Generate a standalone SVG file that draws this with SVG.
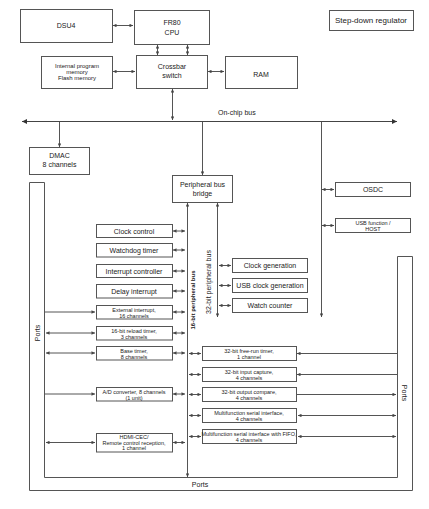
<svg xmlns="http://www.w3.org/2000/svg" width="429" height="509" viewBox="0 0 429 509">
<style>
.box{fill:#fff;stroke:#555;stroke-width:1}
.t{font-family:"Liberation Sans",Arial,sans-serif;fill:#222;text-anchor:middle}
.s8{font-size:8px}.s7{font-size:7px}.s6{font-size:6px}.s5{font-size:5.5px}
.c{fill:none;stroke:#555;stroke-width:1}
.d{marker-start:url(#a);marker-end:url(#a)}
.e{marker-end:url(#a)}
.bus{fill:none;stroke:#444;stroke-width:1.2;marker-start:url(#b);marker-end:url(#b)}
</style>
<defs>
<marker id="a" viewBox="0 0 6 6" refX="6" refY="3" markerWidth="4" markerHeight="3.5" orient="auto-start-reverse" markerUnits="userSpaceOnUse"><path d="M0,0 L6,3 L0,6 z" fill="#444"/></marker>
<marker id="b" viewBox="0 0 6 6" refX="6" refY="3" markerWidth="7" markerHeight="5" orient="auto-start-reverse" markerUnits="userSpaceOnUse"><path d="M0,0 L6,3 L0,6 z" fill="#333"/></marker>
</defs>
<rect width="429" height="509" fill="#fff"/>

<g id="connectors">
<path class="c d" d="M113,25.5 H133"/>
<path class="c d" d="M157.5,45 V55"/>
<path class="c d" d="M187.5,45 V55"/>
<path class="c d" d="M113,71.5 H135"/>
<path class="c d" d="M208,71.5 H224"/>
<path class="c d" d="M172.5,89 V120"/>
<path class="bus" d="M22,121.5 H397"/>
<path class="c e" d="M59.5,122 V147"/>
<path class="c e" d="M202.5,122 V175"/>
<path class="c e" d="M321.5,122 V317"/>
<path class="c d" d="M322,189.5 H334"/>
<path class="c d" d="M322,225.5 H334"/>
<path class="c d" d="M187.5,203 V477"/>
<path class="c d" d="M217.5,203 V317"/>
<path class="c d" d="M173,231 H185"/>
<path class="c d" d="M173,250 H185"/>
<path class="c d" d="M173,271 H185"/>
<path class="c d" d="M173,291 H185"/>
<path class="c d" d="M173,312 H185"/>
<path class="c d" d="M173,333 H185"/>
<path class="c d" d="M173,353 H185"/>
<path class="c d" d="M173,394 H185"/>
<path class="c d" d="M173,442.5 H185"/>
<path class="c d" d="M189,353.5 H201"/>
<path class="c d" d="M189,374.5 H201"/>
<path class="c d" d="M189,394.5 H201"/>
<path class="c d" d="M189,415.5 H201"/>
<path class="c d" d="M189,436.5 H201"/>
<path class="c d" d="M219,265.5 H231"/>
<path class="c d" d="M219,285.5 H231"/>
<path class="c d" d="M219,305.5 H231"/>
<path class="c e" d="M45,312 H95"/>
<path class="c d" d="M46,333 H95"/>
<path class="c d" d="M46,353 H95"/>
<path class="c e" d="M45,394 H95"/>
<path class="c d" d="M46,442.5 H95"/>
<path class="c e" d="M397,353.5 H297"/>
<path class="c e" d="M397,374.5 H297"/>
<path class="c e" d="M297,394.5 H396"/>
<path class="c d" d="M298,415.5 H396"/>
<path class="c d" d="M298,436.5 H396"/>
</g>

<g id="ports">
<path class="box" d="M29.5,182.5 H44.5 V477.5 H397.5 V256.5 H412.5 V490.5 H29.5 Z"/>
<text class="t s7" transform="translate(40,333) rotate(-90)">Ports</text>
<text class="t s7" x="200" y="486.5">Ports</text>
<text class="t s7" transform="translate(401.5,393) rotate(90)">Ports</text>
</g>

<g id="dsu4"><rect class="box" x="20.5" y="9.5" width="92" height="33"/><text class="t s7" x="66" y="28">DSU4</text></g>
<g id="cpu"><rect class="box" x="134.5" y="10.5" width="75" height="34"/><text class="t s7" x="172" y="25">FR80</text><text class="t s7" x="172" y="34.5">CPU</text></g>
<g id="ipm"><rect class="box" x="41.5" y="56.5" width="71" height="32"/><text class="t s6" x="77" y="68">Internal program</text><text class="t s6" x="77" y="74">memory</text><text class="t s6" x="77" y="80">Flash memory</text></g>
<g id="crossbar"><rect class="box" x="136.5" y="55.5" width="71" height="33"/><text class="t s7" x="172" y="68.5">Crossbar</text><text class="t s7" x="172" y="77.5">switch</text></g>
<g id="ram"><rect class="box" x="225.5" y="56.5" width="72" height="32"/><text class="t s7" x="261" y="76.5">RAM</text></g>
<g id="regulator"><rect class="box" x="329.5" y="10.5" width="84" height="20"/><text class="t s8" x="371" y="23">Step-down regulator</text></g>
<g id="onchip-bus-label"><text class="t s7" x="218" y="114.5" style="text-anchor:start">On-chip bus</text></g>
<g id="dmac"><rect class="box" x="29.5" y="147.5" width="60" height="27"/><text class="t s7" x="59.5" y="157.5">DMAC</text><text class="t s7" x="59.5" y="166.5">8 channels</text></g>
<g id="bridge"><rect class="box" x="172.5" y="175.5" width="60" height="27"/><text class="t s7" x="202.5" y="186.5">Peripheral bus</text><text class="t s7" x="202.5" y="195.5">bridge</text></g>
<g id="osdc"><rect class="box" x="335.5" y="182.5" width="75" height="14"/><text class="t s7" x="373" y="192">OSDC</text></g>
<g id="usbfunc"><rect class="box" x="335.5" y="218.5" width="75" height="14"/><text class="t s5" x="373" y="224.5">USB function /</text><text class="t s5" x="373" y="230.5">HOST</text></g>

<g id="bus16-label"><text class="t s6" transform="translate(194.5,300) rotate(-90)" style="font-weight:bold">16-bit peripheral bus</text></g>
<g id="bus32-label"><text class="t s7" transform="translate(211,282) rotate(-90)">32-bit peripheral bus</text></g>

<g id="clockctl"><rect class="box" x="96.5" y="224.5" width="76" height="13"/><text class="t s7" x="134" y="233.5">Clock control</text></g>
<g id="watchdog"><rect class="box" x="96.5" y="243.5" width="76" height="13.5"/><text class="t s7" x="134" y="252.5">Watchdog timer</text></g>
<g id="intctl"><rect class="box" x="96.5" y="264.5" width="76" height="13"/><text class="t s7" x="134" y="273.5">Interrupt controller</text></g>
<g id="delayint"><rect class="box" x="96.5" y="284.5" width="76" height="13.5"/><text class="t s7" x="134" y="293.5">Delay interrupt</text></g>
<g id="extint"><rect class="box" x="96.5" y="305.5" width="76" height="13.5"/><text class="t s5" x="134" y="311.5">External interrupt,</text><text class="t s5" x="134" y="317.5">16 channels</text></g>
<g id="reload"><rect class="box" x="96.5" y="326.5" width="76" height="13.5"/><text class="t s5" x="134" y="332.5">16-bit reload timer,</text><text class="t s5" x="134" y="338.5">3 channels</text></g>
<g id="basetimer"><rect class="box" x="96.5" y="346.5" width="76" height="13.5"/><text class="t s5" x="134" y="352.5">Base timer,</text><text class="t s5" x="134" y="358.5">8 channels</text></g>
<g id="adc"><rect class="box" x="96.5" y="387.5" width="76" height="13.5"/><text class="t s5" x="134" y="393.5">A/D converter, 8 channels</text><text class="t s5" x="134" y="399.5">(1 unit)</text></g>
<g id="hdmi"><rect class="box" x="96.5" y="433.5" width="76" height="18.5"/><text class="t s5" x="134" y="439">HDMI-CEC/</text><text class="t s5" x="134" y="444.5">Remote control reception,</text><text class="t s5" x="134" y="450">1 channel</text></g>

<g id="clockgen"><rect class="box" x="232.5" y="258.5" width="75" height="14"/><text class="t s7" x="270" y="268">Clock generation</text></g>
<g id="usbclock"><rect class="box" x="232.5" y="278.5" width="75" height="14"/><text class="t s7" x="270" y="288">USB clock generation</text></g>
<g id="watchctr"><rect class="box" x="232.5" y="298.5" width="75" height="14"/><text class="t s7" x="270" y="308">Watch counter</text></g>

<g id="freerun"><rect class="box" x="202.5" y="346.5" width="94" height="14"/><text class="t s5" x="249" y="352.5">32-bit free-run timer,</text><text class="t s5" x="249" y="358.5">1 channel</text></g>
<g id="icu"><rect class="box" x="202.5" y="367.5" width="94" height="14"/><text class="t s5" x="249" y="373.5">32-bit input capture,</text><text class="t s5" x="249" y="379.5">4 channels</text></g>
<g id="ocu"><rect class="box" x="202.5" y="387.5" width="94" height="14"/><text class="t s5" x="249" y="393.5">32-bit output compare,</text><text class="t s5" x="249" y="399.5">4 channels</text></g>
<g id="mfs"><rect class="box" x="202.5" y="408.5" width="94" height="14"/><text class="t s5" x="249" y="414.5">Multifunction serial interface,</text><text class="t s5" x="249" y="420.5">4 channels</text></g>
<g id="mfsfifo"><rect class="box" x="202.5" y="429.5" width="94" height="14"/><text class="t s5" x="249" y="435.5">Multifunction serial interface with FIFO,</text><text class="t s5" x="249" y="441.5">4 channels</text></g>
</svg>
